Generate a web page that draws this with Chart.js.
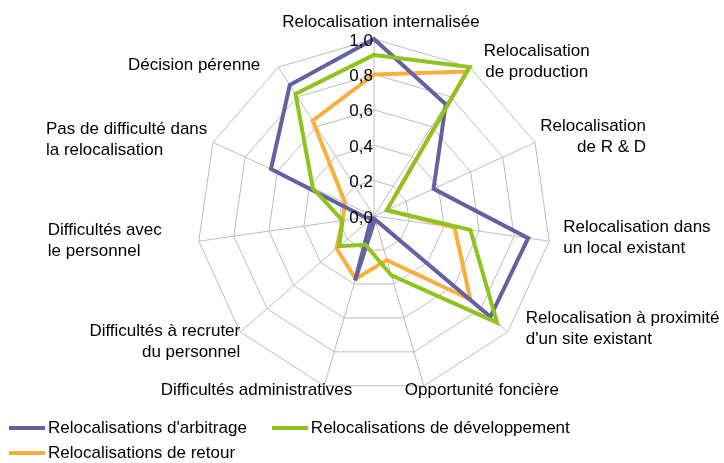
<!DOCTYPE html>
<html lang="fr">
<head>
<meta charset="utf-8">
<title>Relocalisations</title>
<script src="https://cdn.jsdelivr.net/npm/chart.js@4.4.0/dist/chart.umd.min.js"></script>
<style>
  html, body { margin: 0; padding: 0; background: #fff; }
  #cadre { position: relative; width: 724px; height: 463px; overflow: hidden; }
  #legende {
    position: absolute; left: 9px; top: 417px; width: 715px;
    display: flex; flex-wrap: wrap; column-gap: 25px; row-gap: 3px;
    font: 17px "Liberation Sans", Arial, sans-serif; color: #000;
  }
  .item { display: flex; align-items: center; height: 22px; }
  .trait { width: 36px; height: 4px; margin-right: 3px; }
</style>
</head>
<body>
<div id="cadre">
  <canvas id="chartRadar" width="724" height="463"></canvas>
  <div id="legende"></div>
</div>
<script>
const categories = [
    ['Relocalisation internalisée'],
    ['Relocalisation', 'de production'],
    ['Relocalisation', 'de R & D'],
    ['Relocalisation dans', 'un local existant'],
    ['Relocalisation à proximité', "d'un site existant"],
    ['Opportunité foncière'],
    ['Difficultés administratives'],
    ['Difficultés à recruter', 'du personnel'],
    ['Difficultés avec', 'le personnel'],
    ['Pas de difficulté dans', 'la relocalisation'],
    ['Décision pérenne']
];

const series = ["Relocalisations d'arbitrage", 'Relocalisations de développement', 'Relocalisations de retour'];
const arbitrage = [1.00, 0.75, 0.37, 0.88, 0.87, 0.02, 0.38, 0.02, 0.05, 0.64, 0.88];
const developpement = [0.91, 1.00, 0.08, 0.55, 0.92, 0.35, 0.17, 0.26, 0.18, 0.38, 0.82];
const retour = [0.80, 0.97, 0.08, 0.46, 0.72, 0.26, 0.37, 0.28, 0.18, 0.18, 0.64];
const tickLabels = ['0,0', '0,2', '0,4', '0,6', '0,8', '1,0'];

const couleurs = ['#6461a0', '#8fc31f', '#fbae3c'];
// ordre de dessin : le vert au-dessus, l'orange dessous
const ordres = [1, 0, 2];

// placement des étiquettes autour du radar : alignement, décalage x, décalage y
const placement = [
    ['center', 7, -17],
    ['center', 67, -5],
    ['right', 111, -6],
    ['left', 14, -3],
    ['left', 18, -3],
    ['left', -19, 4],
    ['right', 28, 4],
    ['right', 0, 10],
    ['left', -151, 0],
    ['left', -167, -3],
    ['right', -18, -2]
];

const police = '17px "Liberation Sans", Arial, sans-serif';

const etiquettes = {
    id: 'etiquettes',
    afterDatasetsDraw(chart) {
        const scale = chart.scales.r;
        const ctx = chart.ctx;
        ctx.save();
        ctx.font = police;
        ctx.fillStyle = '#000';
        ctx.textBaseline = 'middle';

        ctx.textAlign = 'right';
        scale.ticks.forEach((t, i) => {
            const d = scale.getDistanceFromCenterForValue(t.value);
            ctx.fillText(tickLabels[i], scale.xCenter - 1, scale.yCenter - d + 2);
        });

        chart.data.labels.forEach((lignes, i) => {
            const p = scale.getPointPosition(i, scale.drawingArea);
            const [align, dx, dy] = placement[i];
            ctx.textAlign = align;
            const h = 21;
            const y0 = p.y + dy - (lignes.length - 1) * h / 2;
            lignes.forEach((l, j) => ctx.fillText(l, p.x + dx, y0 + j * h));
        });
        ctx.restore();
    }
};

const valeurs = [arbitrage, developpement, retour];

const data = {
    labels: categories,
    datasets: series.map((nom, i) => ({
        label: nom,
        data: valeurs[i],
        borderColor: couleurs[i],
        backgroundColor: couleurs[i],
        borderWidth: 4,
        pointRadius: 0,
        fill: false,
        order: ordres[i]
    }))
};

const chartRadar = new Chart(document.getElementById('chartRadar'), {
    type: 'radar',
    data: data,
    options: {
        responsive: false,
        animation: false,
        devicePixelRatio: 1,
        layout: { padding: { left: 197, right: 173, top: 39, bottom: 70 } },
        elements: { line: { tension: 0, borderJoinStyle: 'miter' } },
        plugins: {
            legend: { display: false },
            tooltip: { enabled: false }
        },
        scales: {
            r: {
                min: 0,
                max: 1,
                ticks: { display: false, stepSize: 0.2 },
                pointLabels: { display: false },
                grid: { color: '#bdbdbd', lineWidth: 1 },
                angleLines: { color: '#bdbdbd', lineWidth: 1 },
                afterFit: (s) => {
                    s.xCenter = Math.floor(s.left + s.width / 2);
                    s.yCenter = Math.floor(s.top + s.height / 2);
                    s.drawingArea = Math.min(s.width, s.height) / 2;
                }
            }
        }
    },
    plugins: [etiquettes]
});

const legende = document.getElementById('legende');
series.forEach((nom, i) => {
    const item = document.createElement('div');
    item.className = 'item';
    const trait = document.createElement('span');
    trait.className = 'trait';
    trait.style.background = couleurs[i];
    const texte = document.createElement('span');
    texte.textContent = nom;
    item.appendChild(trait);
    item.appendChild(texte);
    legende.appendChild(item);
});
</script>
</body>
</html>
